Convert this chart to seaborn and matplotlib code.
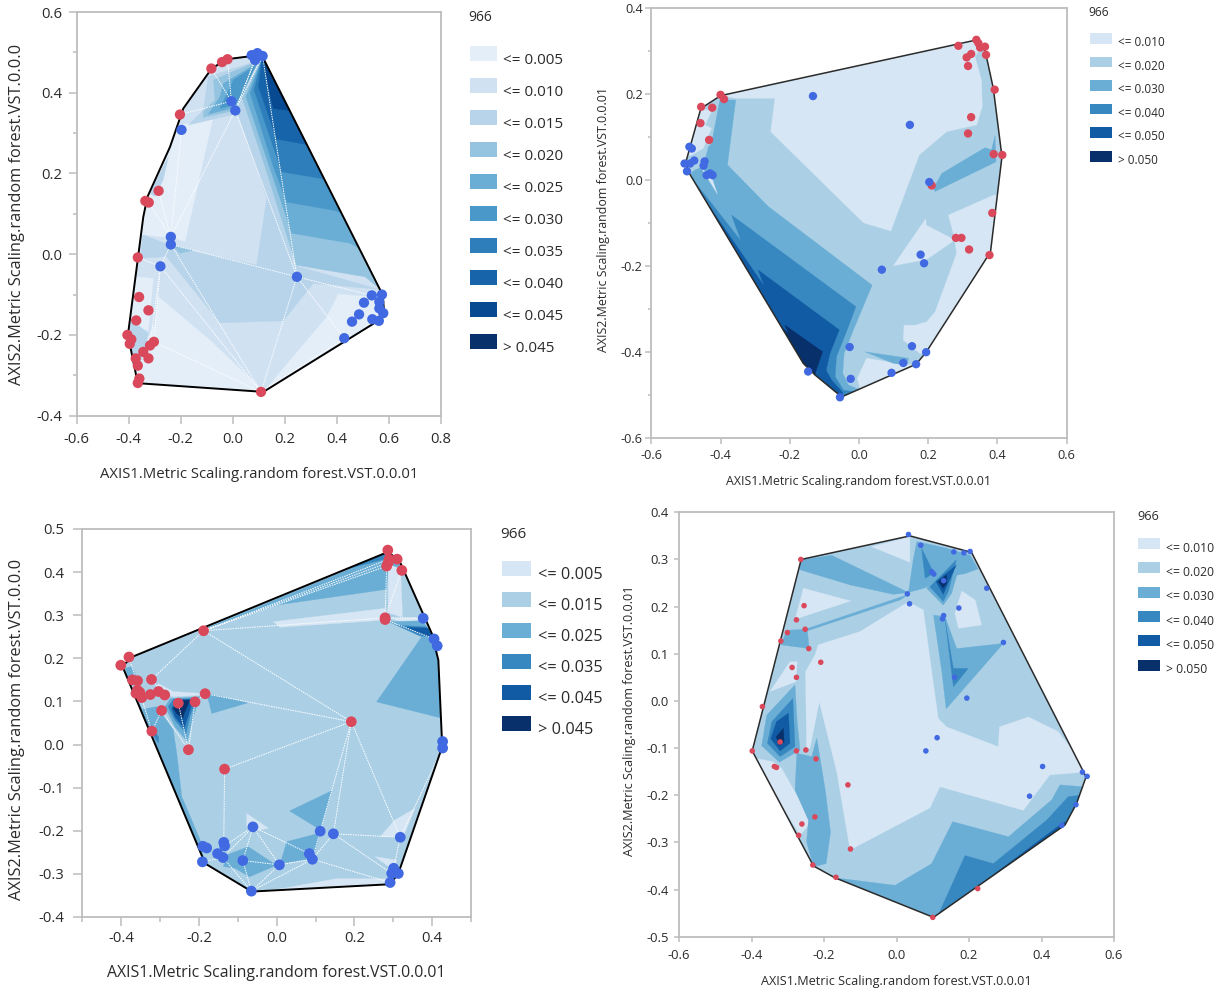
import pandas as pd
import seaborn as sns
import matplotlib.pyplot as plt
from matplotlib.patches import Polygon, Rectangle
from matplotlib.ticker import MultipleLocator

XLABEL = "AXIS1.Metric Scaling.random forest.VST.0.0.01"
YLABEL_A = "AXIS2.Metric Scaling.random forest.VST.0.0.0"
YLABEL_B = "AXIS2.Metric Scaling.random forest.VST.0.0.01"
RED = "#d9495b"
BLUE = "#4169e1"
TEXT = "#2b2b2b"

A_LEVELS = ["<= 0.005", "<= 0.010", "<= 0.015", "<= 0.020", "<= 0.025", "<= 0.030", "<= 0.035", "<= 0.040", "<= 0.045", "> 0.045"]
B_LEVELS = ["<= 0.010", "<= 0.020", "<= 0.030", "<= 0.040", "<= 0.050", "> 0.050"]
C_LEVELS = ["<= 0.005", "<= 0.015", "<= 0.025", "<= 0.035", "<= 0.045", "> 0.045"]
D_LEVELS = B_LEVELS

# panel A, top left
A_RED = [(-0.082, 0.460), (-0.041, 0.476), (-0.020, 0.483), (-0.203, 0.346), (-0.285, 0.157), (-0.336, 0.132),
         (-0.323, 0.128), (-0.365, -0.008), (-0.360, -0.106), (-0.324, -0.139), (-0.371, -0.164), (-0.405, -0.200),
         (-0.390, -0.211), (-0.396, -0.222), (-0.303, -0.217), (-0.318, -0.226), (-0.344, -0.242), (-0.324, -0.258),
         (-0.373, -0.258), (-0.365, -0.276), (-0.359, -0.308), (-0.365, -0.319), (0.109, -0.341)]
A_BLUE = [(0.073, 0.493), (0.095, 0.498), (0.115, 0.491), (0.086, 0.481), (-0.005, 0.379), (0.010, 0.356),
          (-0.197, 0.308), (-0.238, 0.043), (-0.238, 0.024), (-0.278, -0.030), (0.247, -0.056), (0.535, -0.102),
          (0.574, -0.100), (0.564, -0.118), (0.505, -0.120), (0.579, -0.146), (0.564, -0.134), (0.486, -0.149),
          (0.537, -0.161), (0.562, -0.165), (0.459, -0.167), (0.429, -0.208)]
A_HULL = [(-0.353, -0.320), (0.118, -0.341), (0.554, -0.167), (0.583, -0.148), (0.577, -0.101), (0.118, 0.485),
          (0.099, 0.493), (-0.023, 0.483), (-0.081, 0.460), (-0.190, 0.361), (-0.241, 0.266), (-0.328, 0.142),
          (-0.344, 0.092), (-0.403, -0.200), (-0.365, -0.320)]
A_MESH = ("b4-r0 b4-r2 b4-r3 b5-b7 b5-b10 b6-b7 r4-b7 r6-b7 b8-b10 r7-b9 b9-r15 b8-r22 b9-r22 r14-r22 b10-r22 "
          "b10-b21 b10-b11 b2-b10 b2-b5 b3-b5 b1-b5 b12-b2 r22-b21 b9-r14 b8-b9 r21-r16")
A_REGIONS = [
    (1, A_HULL),
    (0, [(-0.209, 0.320), (-0.077, 0.334), (-0.183, 0.031), (-0.222, 0.039), (-0.346, 0.048), (-0.41, 0.048), (-0.41, 0.32)]),
    (0, [(-0.367, -0.056), (-0.305, -0.060), (-0.324, -0.188), (-0.408, -0.188), (-0.408, -0.056)]),
    (0, [(-0.286, -0.105), (-0.087, -0.213), (0.118, -0.338), (0.118, -0.361), (-0.408, -0.361), (-0.408, -0.200), (-0.324, -0.204), (-0.299, -0.171)]),
    (0, [(0.406, -0.099), (0.362, -0.155), (0.118, -0.341), (0.618, -0.341), (0.618, -0.109)]),
    (2, [(0.022, 0.345), (0.131, 0.139), (0.092, -0.027), (-0.228, 0.019), (-0.344, 0.048), (-0.356, -0.010), (-0.254, -0.006),
         (-0.049, -0.170), (0.195, -0.165), (0.310, -0.072), (0.560, -0.087), (0.618, -0.097), (0.233, -0.027), (0.156, 0.266), (0.079, 0.465)]),
    (2, [(-0.094, 0.440), (0.105, 0.481), (0.022, 0.349), (-0.171, 0.320), (-0.113, 0.357)]),
    (2, [(-0.318, 0.151), (-0.267, 0.217), (-0.247, 0.242), (-0.267, 0.185), (-0.299, 0.143)]),
    (2, [(-0.388, -0.163), (-0.408, -0.221), (-0.356, -0.287), (-0.324, -0.196)]),
    (3, [(-0.235, 0.023), (-0.151, 0.010), (-0.203, 0.002)]),
    (3, [(-0.074, 0.432), (0.092, 0.477), (0.015, 0.357), (-0.113, 0.339), (-0.113, 0.353), (-0.068, 0.382)]),
    (4, [(-0.036, 0.423), (0.092, 0.473), (0.015, 0.364), (-0.094, 0.347), (-0.049, 0.390)]),
    (5, [(0.003, 0.432), (0.092, 0.469), (0.009, 0.370), (-0.049, 0.361)]),
    (3, [(0.112, 0.483), (0.035, 0.390), (0.124, 0.217), (0.244, -0.027), (0.509, -0.056), (0.586, -0.097), (0.618, -0.097), (0.156, 0.498)]),
    (4, [(0.112, 0.483), (0.051, 0.390), (0.141, 0.217), (0.227, 0.052), (0.451, 0.027), (0.618, -0.031), (0.156, 0.498)]),
    (5, [(0.112, 0.483), (0.067, 0.399), (0.156, 0.217), (0.208, 0.129), (0.394, 0.108), (0.618, 0.052), (0.156, 0.498)]),
    (6, [(0.112, 0.483), (0.082, 0.407), (0.188, 0.204), (0.336, 0.188), (0.618, 0.134), (0.156, 0.498)]),
    (7, [(0.112, 0.483), (0.099, 0.415), (0.169, 0.285), (0.272, 0.273), (0.362, 0.266), (0.156, 0.498)]),
    (8, [(0.118, 0.473), (0.156, 0.361), (0.205, 0.357), (0.233, 0.355), (0.156, 0.498)]),
]

# panel B, top right
B_RED = [(0.339, 0.326), (0.345, 0.318), (0.350, 0.308), (0.364, 0.310), (0.287, 0.312), (0.324, 0.293), (0.311, 0.285),
         (0.315, 0.265), (0.367, 0.291), (0.392, 0.210), (-0.400, 0.198), (-0.390, 0.188), (-0.456, 0.170), (-0.424, 0.168),
         (-0.458, 0.132), (-0.433, 0.093), (0.324, 0.146), (0.315, 0.108), (0.389, 0.060), (0.414, 0.058), (0.210, -0.013),
         (0.385, -0.077), (0.280, -0.135), (0.296, -0.135), (0.318, -0.162), (0.377, -0.175)]
B_BLUE = [(-0.133, 0.195), (0.147, 0.128), (0.203, -0.005), (-0.490, 0.077), (-0.483, 0.073), (-0.504, 0.038), (-0.488, 0.038),
          (-0.476, 0.045), (-0.446, 0.043), (-0.449, 0.033), (-0.497, 0.020), (-0.440, 0.011), (-0.430, 0.015), (-0.423, 0.011),
          (0.178, -0.174), (0.188, -0.194), (0.066, -0.209), (-0.027, -0.389), (0.153, -0.387), (0.194, -0.401), (0.165, -0.429),
          (0.128, -0.426), (0.094, -0.449), (-0.024, -0.463), (-0.147, -0.446), (-0.055, -0.506)]
B_HULL = [(-0.493, 0.019), (-0.500, 0.042), (-0.457, 0.166), (-0.400, 0.196), (0.330, 0.324), (0.364, 0.302), (0.388, 0.213),
          (0.413, 0.054), (0.380, -0.167), (0.359, -0.194), (0.194, -0.401), (0.165, -0.429), (-0.050, -0.505), (-0.127, -0.454),
          (-0.161, -0.427), (-0.493, 0.019)]
B_REGIONS = [
    (1, B_HULL),
    (0, [(0.369, 0.326), (0.335, 0.287), (0.354, 0.232), (0.356, 0.170), (0.340, 0.128), (0.253, 0.112), (0.174, 0.058), (0.092, -0.119),
         (0.013, -0.100), (-0.255, 0.112), (-0.243, 0.190), (-0.358, 0.190), (-0.411, 0.198), (-0.411, 0.225), (0.330, 0.341)]),
    (0, [(-0.450, 0.166), (-0.426, 0.159), (-0.445, 0.128), (-0.426, 0.120), (-0.450, 0.073), (-0.483, 0.058), (-0.512, 0.054), (-0.488, 0.170)]),
    (0, [(0.390, -0.035), (0.258, -0.082), (0.275, -0.132), (0.282, -0.171), (0.220, -0.307), (0.196, -0.330), (0.162, -0.338), (0.130, -0.338),
         (0.128, -0.373), (0.176, -0.404), (0.234, -0.404), (0.427, -0.124), (0.427, -0.035)]),
    (0, [(0.193, -0.090), (0.194, -0.105), (0.277, -0.140), (0.196, -0.185), (0.099, -0.200)]),
    (0, [(-0.005, -0.462), (0.022, -0.415), (0.128, -0.429), (0.165, -0.431), (0.003, -0.485)]),
    (2, [(0.017, -0.400), (0.143, -0.415), (0.138, -0.431), (0.099, -0.427)]),
    (2, [(-0.402, 0.186), (-0.356, 0.186), (-0.380, 0.035), (-0.262, -0.062), (0.038, -0.245), (-0.016, -0.349), (-0.043, -0.404), (-0.047, -0.450),
         (-0.031, -0.477), (0.003, -0.489), (-0.036, -0.528), (-0.536, -0.528), (-0.536, -0.016), (-0.474, 0.023), (-0.450, 0.031), (-0.435, 0.077), (-0.426, 0.085)]),
    (0, [(-0.455, 0.027), (-0.426, 0.007), (-0.409, -0.033)]),
    (2, [(0.215, -0.020), (0.239, 0.015), (0.364, 0.075), (0.383, 0.070), (0.393, 0.104), (0.396, 0.042), (0.220, -0.027)]),
    (3, [(-0.368, -0.082), (-0.009, -0.295), (-0.038, -0.357), (-0.065, -0.411), (-0.069, -0.458), (-0.045, -0.489), (-0.016, -0.493), (-0.036, -0.528),
         (-0.536, -0.528), (-0.536, -0.016), (-0.490, 0.011), (-0.341, -0.142)]),
    (4, [(-0.291, -0.210), (-0.057, -0.349), (-0.084, -0.404), (-0.095, -0.443), (-0.079, -0.466), (-0.047, -0.495), (-0.055, -0.528),
         (-0.536, -0.528), (-0.536, -0.016), (-0.488, 0.004), (-0.274, -0.247)]),
    (5, [(-0.214, -0.338), (-0.105, -0.400), (-0.122, -0.439), (-0.127, -0.454), (-0.170, -0.435), (-0.247, -0.326), (-0.204, -0.357)]),
]

# panel C, bottom left
C_RED = [(0.286, 0.451), (0.289, 0.430), (0.287, 0.422), (0.283, 0.414), (0.310, 0.430), (0.322, 0.404), (0.279, 0.294), (0.279, 0.290),
         (-0.188, 0.264), (-0.380, 0.203), (-0.401, 0.184), (-0.371, 0.150), (-0.358, 0.148), (-0.322, 0.151), (-0.358, 0.126), (-0.352, 0.121),
         (-0.362, 0.119), (-0.347, 0.109), (-0.325, 0.116), (-0.304, 0.123), (-0.288, 0.115), (-0.253, 0.096), (-0.210, 0.099), (-0.184, 0.118),
         (-0.296, 0.079), (-0.321, 0.031), (-0.227, -0.012), (-0.134, -0.057), (0.192, 0.053)]
C_BLUE = [(0.377, 0.293), (0.405, 0.245), (0.413, 0.229), (0.427, 0.007), (0.427, -0.008), (0.318, -0.215), (0.301, -0.287), (0.301, -0.293),
          (0.296, -0.299), (0.313, -0.299), (0.292, -0.320), (0.146, -0.207), (0.112, -0.201), (-0.061, -0.191), (-0.136, -0.227), (-0.134, -0.235),
          (-0.190, -0.236), (-0.180, -0.240), (-0.152, -0.253), (-0.138, -0.262), (-0.087, -0.269), (0.007, -0.279), (0.084, -0.253), (0.092, -0.266),
          (-0.191, -0.272), (-0.065, -0.340)]
C_HULL = [(-0.397, 0.182), (-0.370, 0.204), (0.287, 0.447), (0.317, 0.424), (0.399, 0.258), (0.416, 0.196), (0.426, -0.005), (0.313, -0.299),
          (0.292, -0.324), (-0.064, -0.341), (-0.184, -0.276), (-0.397, 0.182)]
C_MESH = ("r8-r13 r8-r28 r8-r6 r8-r3 r8-r2 r8-r1 r3-r6 r6-b0 r7-b1 r5-r6 r28-r23 r28-r27 r28-b12 r28-b11 r28-b5 r27-b14 r13-r20 b11-b5 b11-b23 "
          "b11-b8 b12-b23 b13-b22 b13-b21 b13-b20 b13-b19 b13-b15 b5-b6 b4-b5 b23-b10 b23-b25 b21-b25 b21-b23 b20-b25 b19-b25 b20-b21 b19-b24 "
          "r24-r26 r24-r25 r22-r26 r21-r26 r23-r22 r9-r25")
C_REGIONS = [
    (1, C_HULL),
    (2, [(0.287, 0.413), (0.283, 0.360), (0.004, 0.324), (-0.18, 0.27), (0.287, 0.444), (0.326, 0.413)]),
    (3, [(-0.10, 0.32), (0.129, 0.395), (0.287, 0.432), (0.287, 0.45)]),
    (0, [(0.287, 0.420), (0.319, 0.405), (0.324, 0.295), (0.287, 0.306)]),
    (0, [(-0.009, 0.285), (0.279, 0.316), (0.283, 0.289), (0.009, 0.272)]),
    (0, [(0.292, 0.293), (0.377, 0.295), (0.377, 0.289), (0.317, 0.285)]),
    (2, [(0.287, 0.285), (0.377, 0.287), (0.403, 0.242), (0.373, 0.250)]),
    (3, [(0.309, 0.277), (0.386, 0.273), (0.403, 0.244), (0.364, 0.254)]),
    (4, [(0.334, 0.272), (0.390, 0.270), (0.403, 0.246), (0.369, 0.258)]),
    (2, [(0.373, 0.250), (0.257, 0.099), (0.425, 0.061), (0.420, 0.196), (0.401, 0.250)]),
    (2, [(-0.345, 0.082), (-0.309, 0.088), (-0.266, 0.034), (-0.257, -0.020), (-0.244, -0.121), (-0.193, -0.229), (-0.187, -0.276), (-0.30, -0.10), (-0.386, 0.150)]),
    (3, [(-0.326, 0.049), (-0.304, 0.018), (-0.304, 0.003), (-0.326, 0.034)]),
    (2, [(-0.390, 0.177), (-0.373, 0.181), (-0.360, 0.157), (-0.382, 0.153)]),
    (0, [(-0.305, 0.142), (-0.266, 0.123), (-0.197, 0.119), (-0.184, 0.115), (-0.266, 0.111), (-0.309, 0.127)]),
    (2, [(-0.287, 0.088), (-0.274, 0.107), (-0.197, 0.111), (-0.214, 0.065), (-0.230, 0.007), (-0.262, 0.041)]),
    (3, [(-0.279, 0.088), (-0.266, 0.105), (-0.206, 0.107), (-0.223, 0.065), (-0.233, 0.026), (-0.262, 0.057)]),
    (4, [(-0.270, 0.084), (-0.257, 0.104), (-0.214, 0.105), (-0.227, 0.068), (-0.238, 0.038), (-0.262, 0.065)]),
    (5, [(-0.266, 0.084), (-0.244, 0.103), (-0.223, 0.103), (-0.236, 0.076), (-0.242, 0.061), (-0.257, 0.072)]),
    (2, [(-0.180, 0.119), (-0.073, 0.097), (-0.167, 0.072)]),
    (2, [(0.142, -0.107), (0.113, -0.198), (0.033, -0.154)]),
    (2, [(0.026, -0.225), (0.112, -0.205), (0.094, -0.264), (0.009, -0.276)]),
    (2, [(-0.129, -0.256), (-0.073, -0.237), (0.0, -0.280), (-0.070, -0.307), (-0.107, -0.287), (-0.137, -0.283)]),
    (0, [(-0.077, -0.160), (-0.021, -0.194), (-0.064, -0.202), (-0.077, -0.19)]),
    (0, [(0.266, -0.214), (0.304, -0.175), (0.356, -0.148), (0.326, -0.214)]),
    (0, [(0.253, -0.260), (0.309, -0.268), (0.300, -0.291)]),
    (0, [(0.0, -0.336), (0.154, -0.311), (0.287, -0.311), (0.292, -0.324), (-0.060, -0.341)]),
]

# panel D, bottom right
D_RED = [(-0.264, 0.300), (-0.255, 0.202), (-0.276, 0.172), (-0.252, 0.152), (-0.301, 0.145), (-0.319, 0.127), (-0.242, 0.111), (-0.209, 0.082),
         (-0.288, 0.071), (-0.276, 0.050), (-0.370, -0.012), (-0.321, -0.087), (-0.398, -0.106), (-0.276, -0.106), (-0.250, -0.104), (-0.222, -0.123),
         (-0.337, -0.139), (-0.331, -0.141), (-0.134, -0.178), (-0.225, -0.246), (-0.261, -0.261), (-0.270, -0.285), (-0.127, -0.314), (-0.231, -0.348),
         (-0.167, -0.374), (0.100, -0.459), (0.224, -0.398)]
D_BLUE = [(0.033, 0.353), (0.067, 0.330), (0.158, 0.316), (0.186, 0.314), (0.203, 0.317), (0.097, 0.274), (0.103, 0.269), (0.130, 0.255), (0.249, 0.239),
          (0.030, 0.227), (0.036, 0.206), (0.172, 0.197), (0.130, 0.181), (0.127, 0.174), (0.295, 0.124), (0.160, 0.050), (0.194, 0.006), (0.112, -0.078),
          (0.081, -0.106), (0.403, -0.139), (0.513, -0.151), (0.526, -0.160), (0.367, -0.202), (0.495, -0.220), (0.456, -0.264)]
D_HULL = [(-0.263, 0.300), (0.037, 0.350), (0.207, 0.315), (0.523, -0.161), (0.497, -0.217), (0.465, -0.263), (0.102, -0.459), (-0.170, -0.375),
          (-0.229, -0.350), (-0.398, -0.106), (-0.263, 0.300)]
D_REGIONS = [
    (1, D_HULL),
    (0, [(0.033, 0.210), (0.074, 0.193), (0.115, -0.037), (0.138, -0.055), (0.281, -0.097), (0.284, -0.055), (0.364, -0.034), (0.446, -0.065), (0.534, -0.150),
         (0.423, -0.157), (0.350, -0.232), (0.120, -0.182), (0.092, -0.227), (-0.128, -0.316), (-0.165, -0.150), (-0.213, -0.002), (-0.239, -0.101), (-0.248, -0.101),
         (-0.251, 0.062), (-0.225, 0.097), (-0.216, 0.119), (-0.101, 0.147), (-0.027, 0.182)]),
    (0, [(-0.257, 0.239), (-0.126, 0.212), (-0.257, 0.179), (-0.280, 0.172)]),
    (0, [(-0.349, 0.020), (-0.294, 0.083), (-0.274, 0.083), (-0.277, 0.041)]),
    (0, [(-0.386, -0.122), (-0.340, -0.129), (-0.317, -0.143), (-0.280, -0.193), (-0.234, -0.256), (-0.266, -0.285), (-0.340, -0.193)]),
    (0, [(-0.069, 0.327), (0.037, 0.348), (0.037, 0.294)]),
    (0, [(0.180, 0.233), (0.217, 0.214), (0.235, 0.161), (0.171, 0.154), (0.161, 0.186)]),
    (2, [(-0.266, 0.278), (-0.266, 0.299), (-0.179, 0.309), (0.033, 0.230), (-0.009, 0.226), (-0.128, 0.246)]),
    (2, [(-0.252, 0.152), (0.033, 0.226), (0.010, 0.214), (-0.252, 0.147)]),
    (2, [(-0.319, 0.119), (-0.303, 0.150), (-0.246, 0.152), (-0.241, 0.111)]),
    (2, [(0.033, 0.230), (0.046, 0.299), (0.056, 0.338), (0.138, 0.324), (0.203, 0.309), (0.225, 0.28), (0.19, 0.27), (0.12, 0.26), (0.08, 0.24)]),
    (3, [(0.069, 0.324), (0.103, 0.271), (0.079, 0.260)]),
    (2, [(0.083, 0.239), (0.184, 0.313), (0.152, 0.228), (0.129, 0.203)]),
    (3, [(0.092, 0.242), (0.165, 0.299), (0.143, 0.232), (0.129, 0.211)]),
    (4, [(0.109, 0.253), (0.165, 0.288), (0.140, 0.246), (0.129, 0.226)]),
    (5, [(0.115, 0.253), (0.138, 0.267), (0.138, 0.249), (0.129, 0.239)]),
    (2, [(0.102, 0.182), (0.134, 0.179), (0.166, 0.111), (0.295, 0.122), (0.137, -0.017), (0.125, 0.062)]),
    (3, [(0.134, 0.172), (0.157, 0.069), (0.198, 0.069), (0.157, 0.030)]),
    (2, [(-0.280, 0.034), (-0.274, -0.044), (-0.266, -0.104), (-0.323, -0.130), (-0.372, -0.095), (-0.358, -0.030)]),
    (3, [(-0.286, 0.005), (-0.280, -0.097), (-0.321, -0.118), (-0.356, -0.090), (-0.344, -0.044)]),
    (4, [(-0.298, -0.026), (-0.294, -0.090), (-0.321, -0.106), (-0.347, -0.080), (-0.331, -0.044)]),
    (5, [(-0.312, -0.058), (-0.310, -0.087), (-0.323, -0.095), (-0.332, -0.076)]),
    (2, [(-0.275, -0.111), (-0.234, -0.118), (-0.220, -0.079), (-0.197, -0.186), (-0.182, -0.278), (-0.194, -0.345), (-0.229, -0.352), (-0.248, -0.299),
         (-0.243, -0.253), (-0.280, -0.189)]),
    (2, [(-0.170, -0.375), (-0.004, -0.391), (0.097, -0.345), (0.155, -0.256), (0.309, -0.288), (0.428, -0.210), (0.451, -0.178), (0.515, -0.182), (0.543, -0.186),
         (0.534, -0.292), (0.102, -0.476), (-0.170, -0.398)]),
    (3, [(0.111, -0.461), (0.189, -0.328), (0.267, -0.345), (0.414, -0.253), (0.474, -0.203), (0.506, -0.200), (0.543, -0.221), (0.543, -0.292), (0.185, -0.504)]),
    (4, [(0.235, -0.387), (0.451, -0.263), (0.465, -0.256), (0.479, -0.292), (0.267, -0.412)]),
]

W, H = 1228, 993


def draw_legend(levels, colors, sw_x, sw_top, sw_w, sw_h, pitch, text_x, base_off, fs, title_x, title_y, title_fs):
    # legend keys sit above the text baseline, so they are placed by hand in figure pixels
    for i, (lab, c) in enumerate(zip(levels, colors)):
        top = sw_top + i * pitch
        fig.add_artist(Rectangle((sw_x / W, 1 - (top + sw_h) / H), sw_w / W, sw_h / H, transform=fig.transFigure,
                                 facecolor=c, edgecolor="none"))
        fig.text(text_x / W, 1 - (top + base_off) / H, lab, ha="left", va="baseline", fontsize=fs, color=TEXT)
    fig.text(title_x / W, 1 - title_y / H, "966", ha="left", va="center", fontsize=title_fs, color=TEXT)


def draw_panel(box, xlim, ylim, xstep, ystep, xminor, yminor, red, blue, hull, regions, mesh, levels, size,
               tick_fs, ticks, ylabel, xlabel_fs, xlabel_y, ylabel_fs, ylabel_x, ylabel_y, legend):
    left, top, right, bottom = box
    ax = fig.add_axes([left / W, 1 - bottom / H, (right - left) / W, (bottom - top) / H])
    cmap = sns.color_palette("Blues", as_cmap=True)
    colors = [cmap((i + 1) / len(levels)) for i in range(len(levels))]

    clip = Polygon(hull, closed=True, transform=ax.transData)
    for level, pts in regions:
        p = Polygon(pts, closed=True, facecolor=colors[level], edgecolor=colors[level], lw=0.2, zorder=1)
        ax.add_patch(p)
        p.set_clip_path(clip)

    if mesh:
        lookup = {"r": red, "b": blue}
        for edge in mesh.split():
            a, b = edge.split("-")
            p1 = lookup[a[0]][int(a[1:])]
            p2 = lookup[b[0]][int(b[1:])]
            ax.plot([p1[0], p2[0]], [p1[1], p2[1]], color="white", lw=0.7, ls=(0, (1.5, 1)), zorder=2)

    ax.plot([q[0] for q in hull], [q[1] for q in hull], color="black" if mesh else "#2b2b2b", lw=1.4 if mesh else 1.1, zorder=3)

    df = pd.DataFrame({
        "x": [q[0] for q in red] + [q[0] for q in blue],
        "y": [q[1] for q in red] + [q[1] for q in blue],
        "group": ["r"] * len(red) + ["b"] * len(blue),
    })
    sns.scatterplot(data=df, x="x", y="y", hue="group", palette={"r": RED, "b": BLUE}, s=size, linewidth=0,
                    legend=False, ax=ax, zorder=4)

    ax.set_xlim(*xlim)
    ax.set_ylim(*ylim)
    ax.xaxis.set_major_locator(MultipleLocator(xstep))
    ax.yaxis.set_major_locator(MultipleLocator(ystep))
    if xminor:
        ax.xaxis.set_minor_locator(MultipleLocator(xminor))
    if yminor:
        ax.yaxis.set_minor_locator(MultipleLocator(yminor))
    ax.xaxis.set_major_formatter(lambda v, pos: f"{v:.1f}" if abs(v) > 1e-9 else "0.0")
    ax.yaxis.set_major_formatter(lambda v, pos: f"{v:.1f}" if abs(v) > 1e-9 else "0.0")
    major, minor, xpad, ypad = ticks
    ax.tick_params(which="major", length=major, width=1.1, color="#bdbdbd", labelsize=tick_fs, labelcolor=TEXT)
    ax.tick_params(which="minor", length=minor, width=1.1, color="#bdbdbd")
    ax.tick_params(axis="x", which="major", pad=xpad)
    ax.tick_params(axis="y", which="major", pad=ypad)
    for s in ax.spines.values():
        s.set_visible(True)
        s.set_color("#bdbdbd")
        s.set_linewidth(1.3)
    ax.set_xlabel("")
    ax.set_ylabel("")
    fig.text((left + right) / 2 / W, 1 - xlabel_y / H, XLABEL, ha="center", va="center", fontsize=xlabel_fs, color=TEXT)
    fig.text(ylabel_x / W, 1 - ylabel_y / H, ylabel, rotation=90, ha="center", va="center", fontsize=ylabel_fs, color=TEXT)
    draw_legend(levels, colors, *legend)


sns.set_theme(style="ticks")
plt.rcParams["font.family"] = ["Open Sans", "DejaVu Sans"]
plt.rcParams["axes.unicode_minus"] = False

fig = plt.figure(figsize=(W / 100, H / 100), dpi=100, facecolor="white")

draw_panel((76.7, 12, 440.7, 415.7), (-0.6, 0.8), (-0.4, 0.6), 0.2, 0.2, None, 0.1, A_RED, A_BLUE, A_HULL, A_REGIONS, A_MESH,
           A_LEVELS, 55, 10.7, (5.5, 3.2, 6.5, 5), YLABEL_A, 10.7, 474, 11.8, 17, 214,
           (470, 46, 27, 15, 32, 503, 18, 11, 468, 17.5, 10))
draw_panel((651.3, 8, 1066.7, 437.7), (-0.6, 0.6), (-0.6, 0.4), 0.2, 0.2, None, 0.1, B_RED, B_BLUE, B_HULL, B_REGIONS, None,
           B_LEVELS, 36, 9.2, (4.3, 2.2, 4, 1.8), YLABEL_B, 8.9, 481, 8.9, 603, 220,
           (1090, 33, 22, 10.5, 23.6, 1118, 13, 8.5, 1088.5, 13, 8.7))
draw_panel((82.3, 529, 471, 917), (-0.5, 0.5), (-0.4, 0.5), 0.2, 0.1, 0.1, None, C_RED, C_BLUE, C_HULL, C_REGIONS, C_MESH,
           C_LEVELS, 60, 10.7, (6.5, 3.5, 3.5, 6.5), YLABEL_A, 11.4, 973, 11.8, 17, 729,
           (502, 561, 29, 15, 31, 538, 18.3, 11.7, 500, 534.5, 10.9))
draw_panel((679, 512.3, 1114, 936.7), (-0.6, 0.6), (-0.5, 0.4), 0.2, 0.1, None, None, D_RED, D_BLUE, D_HULL, D_REGIONS, None,
           D_LEVELS, 16, 9.4, (3.6, 2, 5, 3.6), YLABEL_B, 9.1, 981, 9.1, 629, 721,
           (1138, 538, 22, 11, 24.3, 1166, 13.7, 8.7, 1137, 517, 9.1))

plt.savefig("out.png", dpi=100)
